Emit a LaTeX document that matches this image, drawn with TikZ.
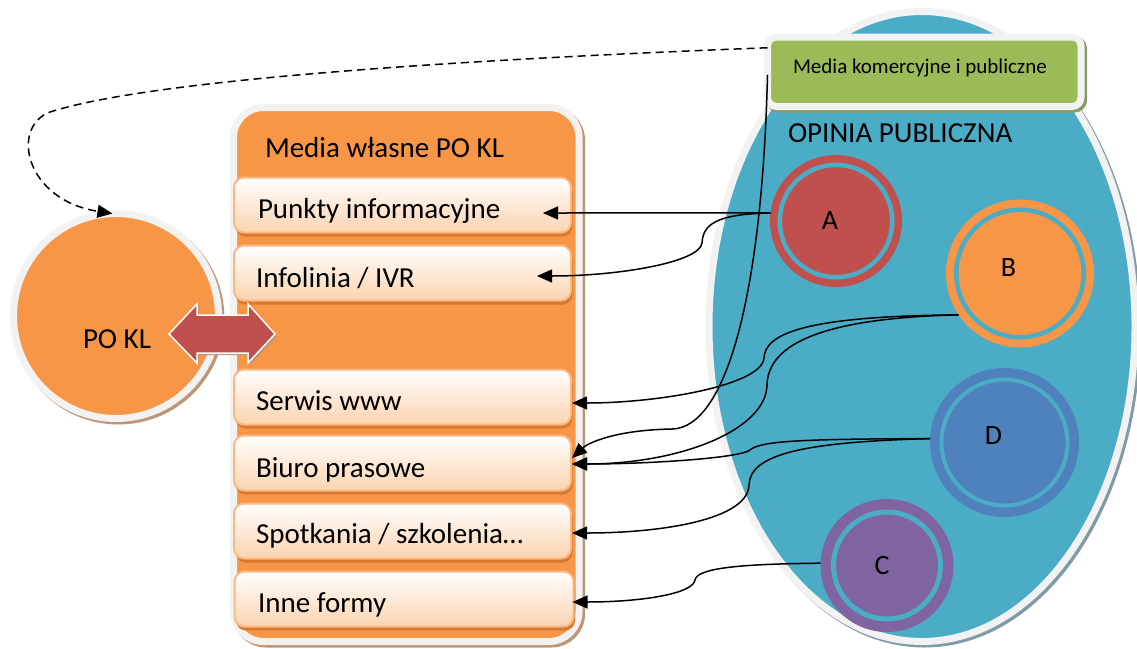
\documentclass[tikz,border=0pt]{standalone}
\usepackage{fontspec}
\setmainfont{Carlito}
\usetikzlibrary{arrows.meta,shapes.geometric}
\definecolor{opblue}{HTML}{4BACC6}
\definecolor{cred}{HTML}{C0504D}
\definecolor{corange}{HTML}{F79646}
\definecolor{cdblue}{HTML}{4F81BD}
\definecolor{cpurple}{HTML}{8064A2}
\definecolor{cgreen}{HTML}{9BBB59}
\definecolor{gborder}{HTML}{F2F2F2}
\definecolor{boxbot}{HTML}{FBD3B0}
\definecolor{boxline}{HTML}{F9B982}
\definecolor{boxshadow}{HTML}{D9782E}
\definecolor{brshadow}{HTML}{BE9576}
\definecolor{blshadow}{HTML}{7E9BA6}
\definecolor{grshadow}{HTML}{879A62}
\begin{document}
\begin{tikzpicture}[x=1pt,y=-1pt,
  every node/.style={outer sep=0pt, inner sep=0pt},
  txt/.style={font=\fontsize{29}{34}\selectfont, anchor=base west},
  lbl/.style={font=\fontsize{28}{33}\selectfont, anchor=base},
  conn/.style={line width=1.5pt, -{Triangle[length=15pt,width=13pt]}},
  bord/.style={draw=gborder, line width=7pt},
  shad/.style={preaction={draw=#1, fill=#1, line width=7pt, transform canvas={xshift=2.5pt,yshift=-2.5pt}}},
  disk/.style={circle, fill=#1},
  ringc/.style={circle, draw=opblue},
  mbox/.style={rectangle, rounded corners=10pt, draw=boxline, line width=2pt,
    top color=white, bottom color=boxbot, minimum width=337pt, minimum height=55pt,
    preaction={fill=boxshadow, transform canvas={xshift=1.5pt,yshift=-4pt}}},
]
\useasboundingbox (0,0) rectangle (1137,648);

% public opinion ellipse
\node[ellipse, minimum width=426pt, minimum height=630pt, fill=opblue, bord, shad=blshadow] (opinia) at (922,326.5) {};
\node[txt] (optxt) at (788,142) {OPINIA PUBLICZNA};

% circles
\node[disk=cred, minimum size=132pt] (A) at (836,221) {};
\node[ringc, line width=4.5pt, minimum size=112.5pt] (Aring) at (A) {};
\node[lbl] (Atxt) at (830,229) {A};

\node[disk=corange, minimum size=148pt] (B) at (1020,273.5) {};
\node[ringc, line width=4.5pt, minimum size=127.5pt] (Bring) at (B) {};
\node[lbl] (Btxt) at (1008.5,276) {B};

\node[disk=cdblue, minimum size=149pt] (D) at (1004.5,442.5) {};
\node[ringc, line width=4pt, minimum size=126pt] (Dring) at (D) {};
\node[lbl] (Dtxt) at (993.5,444) {D};

\node[disk=cpurple, minimum size=133pt] (C) at (887,565.5) {};
\node[ringc, line width=5pt, minimum size=107pt] (Cring) at (C) {};
\node[lbl] (Ctxt) at (882,574) {C};

% green box
\node[rectangle, rounded corners=9pt, fill=cgreen, bord, shad=grshadow, minimum width=313.5pt, minimum height=69.5pt] (green) at (924.25,71.75) {};
\node[font=\fontsize{21}{25}\selectfont, anchor=base west] (greentxt) at (793,73) {Media komercyjne i publiczne};

% own media container
\node[rectangle, rounded corners=30pt, fill=corange, bord, shad=brshadow, minimum width=345.5pt, minimum height=534pt] (media) at (406.25,374.5) {};
\node[txt] (mediatxt) at (265,157) {Media własne PO KL};

\node[mbox] (box1) at (402.5,205) {};
\node[mbox] (box2) at (402.5,273) {};
\node[mbox] (box3) at (402.5,397) {};
\node[mbox] (box4) at (402.5,463) {};
\node[mbox] (box5) at (402.5,531) {};
\node[mbox, minimum width=339pt] (box6) at (404,599) {};
\node[txt] (t1) at (258,218) {Punkty informacyjne};
\node[txt] (t2) at (256,287) {Infolinia / IVR};
\node[txt] (t3) at (256,410) {Serwis www};
\node[txt] (t4) at (256,477) {Biuro prasowe};
\node[txt] (t5) at (256,543) {Spotkania / szkolenia…};
\node[txt] (t6) at (258,612) {Inne formy};

% PO KL
\node[circle, fill=corange, bord, shad=brshadow, minimum size=205pt] (pokl) at (116,316) {};
\node[txt] (pokltxt) at (83,348) {PO KL};

% double arrow
\draw[fill=cred, draw=white, line width=1.5pt,
  preaction={fill=brshadow, transform canvas={xshift=2pt,yshift=-2pt}}]
  (169,334) -- (197,304) -- (197,315) -- (248,315) -- (248,304) -- (275,334)
  -- (248,363) -- (248,353) -- (197,353) -- (197,363) -- cycle;

% connectors
\draw[line width=1.5pt, dash pattern=on 8pt off 5pt, -{Triangle[length=15pt,width=13pt]}]
  ([yshift=24pt]green.west) .. controls (450,60) and (150,80) .. (50,112)
  .. controls (10,127) and (25,200) .. (pokl.92);

\draw[conn] (A.173) -- ([xshift=-28pt,yshift=-8pt]box1.east);
\draw[conn] (A.173) .. controls (715,214) and (703,225) .. (702,243)
  .. controls (700,262) and (620,276) .. ([xshift=-34pt,yshift=-3pt]box2.east);
\draw[conn] (B.214) .. controls (800,316) and (765,335) .. (764,358)
  .. controls (762,385) and (660,403) .. ([xshift=1pt,yshift=-6pt]box3.east);
\draw[conn] (B.214) .. controls (820,318) and (768,345) .. (767,385)
  .. controls (766,430) and (680,464) .. ([xshift=1pt,yshift=-1pt]box4.east);
\draw[conn] ([yshift=-3pt]green.west) .. controls (762,300) and (725,428) .. (672,429)
  .. controls (615,430) and (588,443) .. ([xshift=1pt,yshift=5pt]box4.east);
\draw[conn] (D.177) .. controls (800,439) and (760,441) .. (750,450)
  .. controls (740,458) and (650,464) .. ([xshift=1pt,yshift=-1pt]box4.east);
\draw[conn] (D.177) .. controls (800,442) and (750,455) .. (749,485)
  .. controls (748,520) and (660,533) .. ([xshift=1pt,yshift=-2pt]box5.east);
\draw[conn] (C.178) .. controls (740,564) and (697,568) .. (695,580)
  .. controls (693,594) and (640,602) .. ([xshift=-1pt,yshift=-3pt]box6.east);
\end{tikzpicture}
\end{document}
